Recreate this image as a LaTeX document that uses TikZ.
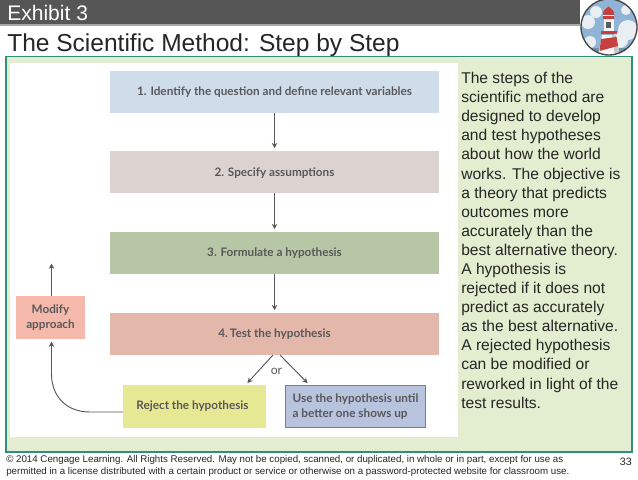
\documentclass[tikz,border=0pt]{standalone}
\usepackage{fontspec}
\setmainfont{Liberation Sans}
\newfontfamily\diagfont{Lato}
\usetikzlibrary{arrows.meta}
\definecolor{barc}{HTML}{565656}
\definecolor{barl}{HTML}{A8A8A8}
\definecolor{tealc}{HTML}{2F8F7F}
\definecolor{panelc}{HTML}{E3EDCF}
\definecolor{inkc}{HTML}{58585A}
\definecolor{box1c}{HTML}{CFDCEA}
\definecolor{box2c}{HTML}{DCD3D0}
\definecolor{box3c}{HTML}{B7C6A5}
\definecolor{box4c}{HTML}{E3B7AA}
\definecolor{modc}{HTML}{F5B9AC}
\definecolor{rejc}{HTML}{E7E894}
\definecolor{usec}{HTML}{B8C3DE}
\definecolor{useb}{HTML}{A56A7C}
\definecolor{skyc}{HTML}{8FB4D6}
\definecolor{cloudc}{HTML}{E8EEF2}
\definecolor{redc}{HTML}{C5403F}
\tikzset{
  x=0.75pt,y=-0.75pt,
  stepbox/.style={minimum width=247pt,minimum height=31.5pt,inner sep=0pt,text=inkc,
    font=\diagfont\fontsize{8.8}{11}\selectfont\bfseries,anchor=center,text height=7.4pt,text depth=1pt},
  sidebox/.style={inner sep=0pt,text=inkc,align=center,
    font=\diagfont\fontsize{8.8}{11.4}\selectfont\bfseries,anchor=center},
  conn/.style={draw=inkc,line width=0.7pt,shorten >=1.5pt,-{Stealth[length=4pt,width=4pt]}},
}
\begin{document}
\begin{tikzpicture}
\useasboundingbox (0,0) rectangle (638,479);
\fill[white] (0,0) rectangle (638,479);
% header
\fill[barc] (0,0) rectangle (580,24);
\fill[barl] (0,24) rectangle (580,25.5);
\node[anchor=base west,inner sep=0pt,text=white,font=\fontsize{15.8}{18}\selectfont] (exh) at (7,20) {Exhibit 3};
\node[anchor=base west,inner sep=0pt,text=black!85,font=\fontsize{18.4}{21}\selectfont] (ttl) at (7,51) {The Scientific Method: Step by Step};
% panels
\fill[panelc,draw=tealc,line width=0.9pt] (6,56.5) rectangle (632,452);
\fill[white] (10,63) rectangle (458,437);
% step boxes
\node[stepbox,fill=box1c] (s1) at (274.5,91.5) {1. Identify the question and define relevant variables};
\node[stepbox,fill=box2c] (s2) at (274.5,171.5) {\raisebox{-0.8pt}[0pt][0pt]{2. Specify assumptions}};
\node[stepbox,fill=box3c] (s3) at (274.5,252.5) {3. Formulate a hypothesis};
\node[stepbox,fill=box4c] (s4) at (274.5,333.5) {4.\,Test the hypothesis};
\node[sidebox,fill=modc,minimum width=51.5pt,minimum height=32pt] (mod) at (50.5,317.5) {Modify\\approach};
\node[sidebox,fill=rejc,minimum width=107pt,minimum height=32pt] (rej) at (194.5,406.5) {\hspace*{-3pt}\raisebox{-0.7pt}{Reject the hypothesis}};
\node[sidebox,fill=usec,draw=useb,line width=0.7pt,minimum width=105.5pt,minimum height=32pt,align=left] (use) at (355.5,406.5) {Use the hypothesis until\\a better one shows up};
\coordinate (up) at (51.5,261.5);
\coordinate (a4l) at (273,355);
\coordinate (a4r) at (280,355);
\coordinate (rt) at (246,384.5);
\coordinate (ut) at (309,384.5);
\coordinate (mb) at (51.5,339.5);
\coordinate (mt) at (51.5,296);
\coordinate (rw) at (123,412);
% connectors
\draw[conn] (s1.south) -- (s2.north);
\draw[conn] (s2.south) -- (s3.north);
\draw[conn] (s3.south) -- (s4.north);
\draw[conn] (a4l) -- (rt);
\draw[conn] (a4r) -- (ut);
\draw[conn] (mt) -- (up);
\draw[conn] (rw) -- (90,412) .. controls (66,412) and (51.5,396) .. (51.5,374) -- (mb);
\node[inner sep=0pt,text=inkc,font=\diagfont\fontsize{9.2}{11}\selectfont] (orl) at (276.5,371.5) {or};
% right text
\node[anchor=north west,inner sep=0pt,align=left,text=black!85,font=\fontsize{11.7}{14.32}\selectfont] (txt) at (461,72) {The steps of the\\scientific method are\\designed to develop\\and test hypotheses\\about how the world\\works. The objective is\\a theory that predicts\\outcomes more\\accurately than the\\best alternative theory.\\A hypothesis is\\rejected if it does not\\predict as accurately\\as the best alternative.\\A rejected hypothesis\\can be modified or\\reworked in light of the\\test results.};
% footer
\node[anchor=north west,inner sep=0pt,align=left,text=black!85,font=\fontsize{7.3}{9}\selectfont] (foot) at (6,455.5) {\textcopyright{} 2014 Cengage Learning. All Rights Reserved. May not be copied, scanned, or duplicated, in whole or in part, except for use as\\permitted in a license distributed with a certain product or service or otherwise on a password-protected website for classroom use.};
\node[anchor=base east,inner sep=0pt,text=black!85,font=\fontsize{8}{10}\selectfont] (pg) at (632,465) {33};
% lighthouse
\begin{scope}
\clip (609,27) circle (28);
\fill[skyc] (580,-2) rectangle (638,56);
\fill[cloudc] (588,22) circle (7);
\fill[cloudc] (596,12) circle (6);
\fill[cloudc] (628,30) circle (10);
\fill[cloudc] (620,40) circle (8);
\fill[cloudc] (626,10) circle (5);
\fill[cloudc] (590,42) circle (6);
\fill[skyc!80!black] (580,48) rectangle (638,56);
% tower
\fill[white!92!gray] (602,35) -- (616,35) -- (620,56) -- (598,56) -- cycle;
\fill[gray!45] (612,35) -- (616,35) -- (620,56) -- (615,56) -- cycle;
\fill[redc] (601,39) -- (616.5,37) -- (618,46) -- (599.5,51) -- cycle;
% lantern
\fill[white!92!gray] (604,18) rectangle (614,31);
\fill[gray!70!black] (606,22) rectangle (611,28);
% gallery
\fill[redc] (601,31) rectangle (617,34);
% dome
\fill[redc] (603,19) -- (603,14) .. controls (603,10) and (606,9) .. (608.5,6.5) .. controls (611,9) and (614,10) .. (614,14) -- (614,19) -- cycle;
\fill[white!92!gray] (603,14.5) rectangle (614,15.5);
\end{scope}
\draw[barc!80!black,line width=1pt] (609,27) circle (28);
\end{tikzpicture}
\end{document}
